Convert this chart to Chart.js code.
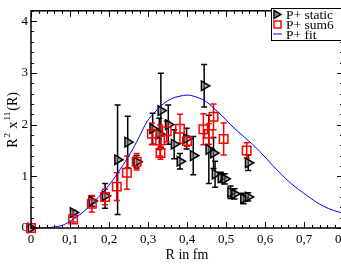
<!DOCTYPE html>
<html>
<head>
<meta charset="utf-8">
<script src="https://cdn.jsdelivr.net/npm/chart.js@4.4.1/dist/chart.umd.min.js"></script>
<style>
  body { margin: 0; background: #fff; overflow: hidden; }
  #wrap { width: 341px; height: 264px; overflow: hidden; position: relative; }
</style>
</head>
<body>
<div id="wrap"><canvas id="chart" width="360" height="264"></canvas></div>
<script>
// P+ static (black triangles)
const staticR   = [0, 0.108, 0.156, 0.19, 0.222, 0.248, 0.271, 0.312, 0.329, 0.333, 0.352, 0.367, 0.382, 0.399, 0.416, 0.444, 0.456, 0.468, 0.472, 0.487, 0.497, 0.512, 0.522, 0.545, 0.557, 0.557];
const staticVal = [0, 0.30, 0.52, 0.62, 1.32, 1.66, 1.28, 1.92, 1.82, 2.27, 2.00, 1.62, 1.29, 1.73, 1.40, 2.75, 1.52, 1.45, 1.04, 0.98, 0.95, 0.69, 0.66, 0.57, 0.60, 1.26];
const staticErr = [0, 0.04, 0.10, 0.24, 1.06, 0.50, 0.12, 0.30, 0.30, 0.72, 0.38, 0.28, 0.15, 0.20, 0.37, 0.41, 0.66, 0.30, 0.25, 0.10, 0.10, 0.12, 0.10, 0.10, 0.08, 0.15];

// P+ sum6 (red squares)
const sum6R   = [0, 0.108, 0.156, 0.19, 0.22, 0.246, 0.271, 0.310, 0.331, 0.332, 0.348, 0.382, 0.400, 0.442, 0.456, 0.468, 0.494, 0.553];
const sum6Val = [0, 0.165, 0.47, 0.60, 0.80, 1.07, 1.28, 1.82, 1.69, 1.45, 1.87, 1.92, 1.68, 1.91, 1.82, 2.15, 1.72, 1.50];
const sum6Err = [0, 0.05, 0.16, 0.15, 0.27, 0.32, 0.16, 0.21, 0.30, 0.12, 0.20, 0.28, 0.10, 0.30, 0.20, 0.25, 0.31, 0.15];

// P+ fit (blue line)
const fitR   = [0, 0.03, 0.05, 0.083, 0.108, 0.134, 0.16, 0.185, 0.211, 0.237, 0.262, 0.28, 0.297, 0.32, 0.339, 0.36, 0.382, 0.40, 0.425, 0.45, 0.468, 0.49, 0.51, 0.536, 0.579, 0.621, 0.664, 0.707, 0.75, 0.80];
const fitVal = [0, 0, 0.01, 0.06, 0.17, 0.31, 0.50, 0.69, 0.94, 1.23, 1.54, 1.80, 2.05, 2.26, 2.40, 2.50, 2.55, 2.57, 2.53, 2.44, 2.32, 2.17, 2.01, 1.83, 1.54, 1.20, 0.88, 0.63, 0.42, 0.28];

const xTicks = [0, 0.1, 0.2, 0.3, 0.4, 0.5, 0.6, 0.7, 0.8];
const yTicks = [0, 1, 2, 3, 4];

const SERIF = "'Liberation Serif', 'DejaVu Serif', serif";

function pts(xs, ys) {
    return xs.map((x, i) => ({ x: x, y: ys[i] }));
}

// error bars, ticks, frame, y title and legend
const decor = {
    id: 'decor',
    beforeDatasetsDraw(chart) {
        const ctx = chart.ctx;
        const xs = chart.scales.x, ys = chart.scales.y;
        const sets = [
            { r: staticR, v: staticVal, e: staticErr, color: '#000' },
            { r: sum6R, v: sum6Val, e: sum6Err, color: '#ff0000' }
        ];
        ctx.save();
        ctx.lineWidth = 1.5;
        sets.forEach(s => {
            ctx.strokeStyle = s.color;
            s.r.forEach((r, i) => {
                if (!s.e[i]) return;
                const px = xs.getPixelForValue(r);
                const top = ys.getPixelForValue(s.v[i] + s.e[i]);
                const bot = ys.getPixelForValue(s.v[i] - s.e[i]);
                ctx.beginPath();
                ctx.moveTo(px, top); ctx.lineTo(px, bot);
                ctx.moveTo(px - 3, top); ctx.lineTo(px + 3, top);
                ctx.moveTo(px - 3, bot); ctx.lineTo(px + 3, bot);
                ctx.stroke();
            });
        });
        ctx.restore();
    },
    afterDraw(chart) {
        const ctx = chart.ctx;
        const a = chart.chartArea;
        const xs = chart.scales.x, ys = chart.scales.y;
        ctx.save();
        ctx.strokeStyle = '#000';
        ctx.lineWidth = 1.5;
        ctx.strokeRect(a.left, a.top, a.right - a.left, a.bottom - a.top);

        ctx.lineWidth = 1;
        ctx.beginPath();
        for (let k = 0; k <= 40; k++) {
            const v = k * 0.02;
            const px = Math.round(xs.getPixelForValue(v)) + 0.5;
            const len = k % 5 === 0 ? 6 : 3;
            ctx.moveTo(px, a.bottom); ctx.lineTo(px, a.bottom - len);
            ctx.moveTo(px, a.top); ctx.lineTo(px, a.top + len);
        }
        for (let k = 0; k <= 21; k++) {
            const v = k * 0.2;
            const py = Math.round(ys.getPixelForValue(v)) + 0.5;
            const len = k % 5 === 0 ? 6 : 3;
            ctx.moveTo(a.left, py); ctx.lineTo(a.left + len, py);
            ctx.moveTo(a.right, py); ctx.lineTo(a.right - len, py);
        }
        ctx.stroke();

        // y axis title: R^2 x^11(R)
        ctx.fillStyle = '#000';
        ctx.translate(17, (a.top + a.bottom) / 2);
        ctx.rotate(-Math.PI / 2);
        ctx.textBaseline = 'alphabetic';
        const parts = [
            { t: 'R', s: 14, up: 0 },
            { t: '2', s: 9, up: 7 },
            { t: ' x', s: 14, up: 0 },
            { t: '11', s: 9, up: 7 },
            { t: '(R)', s: 14, up: 0 }
        ];
        let total = 0;
        parts.forEach(p => { ctx.font = p.s + 'px ' + SERIF; total += ctx.measureText(p.t).width + 1; });
        let cx = -total / 2;
        parts.forEach(p => {
            ctx.font = p.s + 'px ' + SERIF;
            ctx.fillText(p.t, cx, -p.up);
            cx += ctx.measureText(p.t).width + 1;
        });
        ctx.restore();

        // legend box
        ctx.save();
        const lx = 271.5, ly = 8.5;
        ctx.fillStyle = '#fff';
        ctx.fillRect(lx, ly, 90, 32);
        ctx.strokeStyle = '#000';
        ctx.lineWidth = 1;
        ctx.strokeRect(lx, ly, 90, 32);
        ctx.font = '13.5px ' + SERIF;
        ctx.fillStyle = '#000';
        ctx.textBaseline = 'middle';
        const rows = [14.5, 24.5, 34];
        // triangle
        ctx.lineWidth = 1.5;
        ctx.beginPath();
        ctx.moveTo(274, rows[0] - 4); ctx.lineTo(281, rows[0]); ctx.lineTo(274, rows[0] + 4); ctx.closePath();
        ctx.fillStyle = '#888';
        ctx.fill();
        ctx.stroke();
        // square
        ctx.strokeStyle = '#ff0000';
        ctx.strokeRect(274, rows[1] - 3.5, 7, 7);
        // line
        ctx.strokeStyle = '#0000ff';
        ctx.lineWidth = 1;
        ctx.beginPath();
        ctx.moveTo(273, rows[2]); ctx.lineTo(282, rows[2]);
        ctx.stroke();
        ctx.fillStyle = '#000';
        ctx.fillText('P+ static', 286, rows[0] + 1);
        ctx.fillText('P+ sum6', 286, rows[1] + 1);
        ctx.fillText('P+ fit', 286, rows[2] + 1);
        ctx.restore();
    }
};

new Chart(document.getElementById('chart'), {
    type: 'scatter',
    data: {
        datasets: [
            {
                label: 'P+ static',
                data: pts(staticR, staticVal),
                pointStyle: 'triangle',
                rotation: 90,
                pointRadius: 5.5,
                borderWidth: 1.5,
                borderColor: '#000',
                backgroundColor: 'rgba(110,110,110,0.55)',
                clip: false,
                order: 3
            },
            {
                label: 'P+ sum6',
                data: pts(sum6R, sum6Val),
                pointStyle: 'rect',
                pointRadius: 6,
                borderWidth: 1.5,
                borderColor: '#ff0000',
                backgroundColor: 'rgba(255,255,255,0)',
                clip: false,
                order: 2
            },
            {
                label: 'P+ fit',
                type: 'line',
                data: pts(fitR, fitVal),
                borderColor: '#0000ff',
                borderWidth: 1,
                pointRadius: 0,
                cubicInterpolationMode: 'monotone',
                fill: false,
                order: 1
            }
        ]
    },
    options: {
        responsive: false,
        animation: false,
        layout: { padding: { top: 7, right: 17, left: 0, bottom: 0 }, autoPadding: false },
        plugins: { legend: { display: false }, tooltip: { enabled: false } },
        scales: {
            x: {
                type: 'linear',
                min: 0,
                max: 0.8,
                grid: { display: false, drawTicks: false },
                border: { display: false },
                afterFit(scale) { scale.height = 36; },
                afterBuildTicks(scale) { scale.ticks = xTicks.map(v => ({ value: v })); },
                ticks: {
                    color: '#000',
                    padding: 4,
                    maxRotation: 0,
                    autoSkip: false,
                    font: { family: SERIF, size: 13 },
                    callback: v => v === 0 ? '0' : v.toFixed(1).replace('.', ',')
                },
                title: {
                    display: true,
                    text: 'R in fm',
                    color: '#000',
                    padding: 0,
                    font: { family: SERIF, size: 14 }
                }
            },
            y: {
                type: 'linear',
                min: 0,
                max: 4.2,
                grid: { display: false, drawTicks: false },
                border: { display: false },
                afterFit(scale) { scale.width = 31; },
                afterBuildTicks(scale) { scale.ticks = yTicks.map(v => ({ value: v })); },
                ticks: {
                    color: '#000',
                    padding: 3,
                    font: { family: SERIF, size: 13 },
                    callback: v => String(v)
                }
            }
        }
    },
    plugins: [decor]
});
</script>
</body>
</html>
